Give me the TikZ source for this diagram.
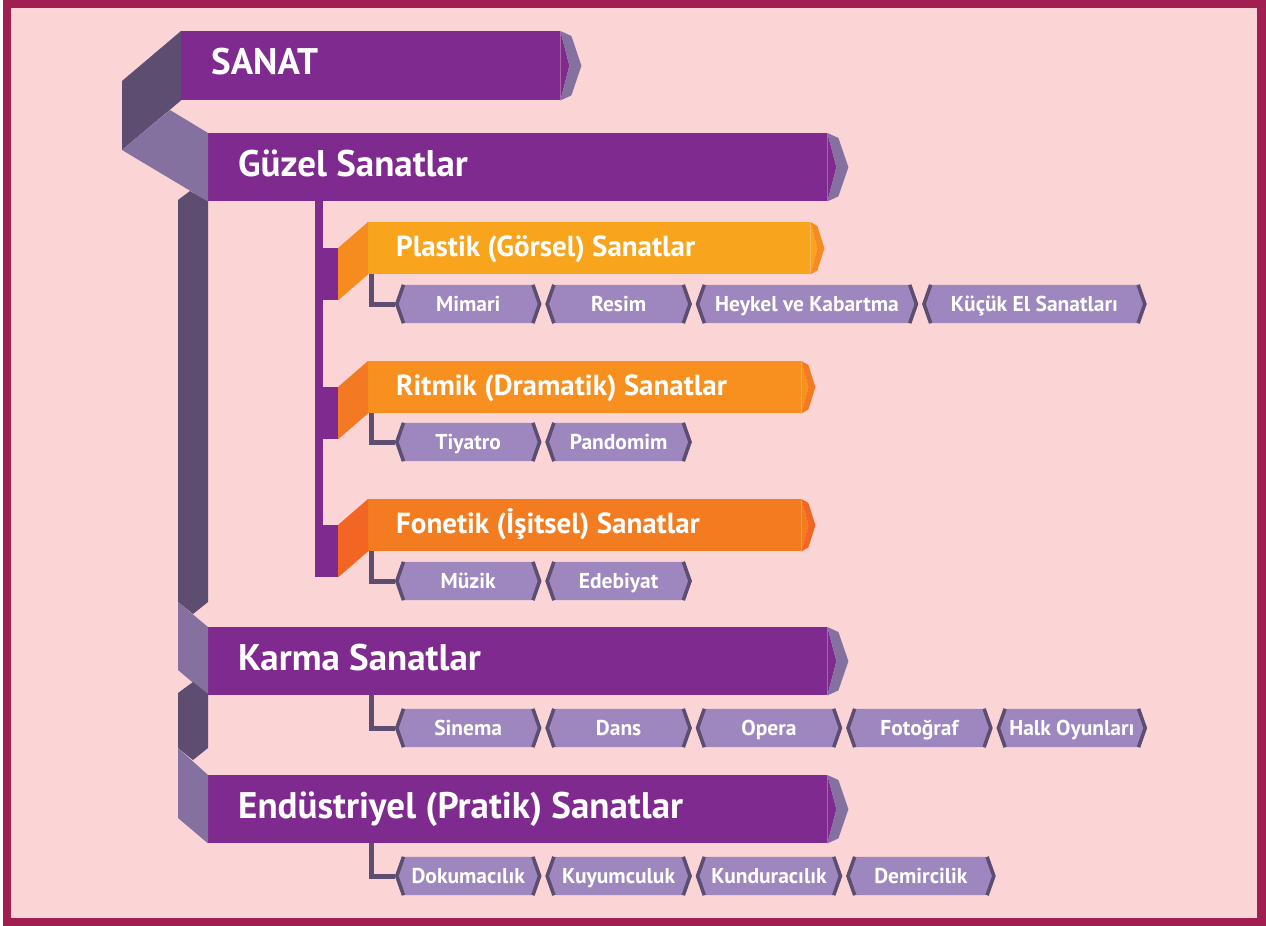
\documentclass[tikz,border=0pt]{standalone}
\usepackage{fontspec}
\setmainfont{PT Sans}
\usetikzlibrary{calc,positioning}
\pgfdeclarelayer{back}
\pgfsetlayers{back,main}

\definecolor{framered}{HTML}{A01E50}
\definecolor{bgpink}{HTML}{FBD5D5}
\definecolor{banpurple}{HTML}{7F2A8E}
\definecolor{spinedark}{HTML}{5C4D71}
\definecolor{foldlight}{HTML}{8571A0}
\definecolor{taglav}{HTML}{9D87BE}
\definecolor{orangeA}{HTML}{F8A51D}
\definecolor{orangeAfold}{HTML}{F68B1F}
\definecolor{orangeB}{HTML}{F7901E}
\definecolor{orangeBfold}{HTML}{F37A23}
\definecolor{orangeC}{HTML}{F47C20}
\definecolor{orangeCfold}{HTML}{F26522}

\tikzset{
  banner/.style={rectangle, inner sep=0pt, anchor=north west, fill=banpurple, minimum width=619pt, minimum height=68pt},
  subbanner/.style={rectangle, inner sep=0pt, anchor=north west, minimum width=433pt, minimum height=52pt},
  bigtext/.style={text=white, font=\bfseries\fontsize{37}{37}\selectfont, inner sep=0pt, text height=26pt, text depth=0pt},
  subtext/.style={text=white, font=\bfseries\fontsize{29}{29}\selectfont, inner sep=0pt, text height=20.3pt, text depth=0pt},
  tag/.style={text=white, font=\bfseries\fontsize{21.5}{21.5}\selectfont, inner sep=0pt, text height=15pt, text depth=0pt, minimum width=146pt, minimum height=38pt},
  twig/.style={draw=spinedark, line width=5pt}
}

\begin{document}
\begin{tikzpicture}[x=1pt,y=-1pt]
  \useasboundingbox (0,0) rectangle (1266,926);

  \begin{pgfonlayer}{back}
    \fill[framered] (3,0) rectangle (1266,926);
    \fill[bgpink] (11,8) rectangle (1257,918);
  \end{pgfonlayer}

  % main banners
  \node[banner, minimum width=379pt, minimum height=69pt] at (181,31) (sanat) {};
  \node[banner] at (208,133) (guzel) {};
  \node[banner] at (208,627) (karma) {};
  \node[banner] at (208,775) (endus) {};

  \foreach \bn in {sanat,guzel,karma,endus}
  {
    \fill[banpurple] (\bn.north east) -- ($(\bn.east)+(9,0)$) -- (\bn.south east) -- cycle;
    \fill[foldlight] (\bn.north east) -- ++(11,5) -- ($(\bn.east)+(21,0)$) -- ($(\bn.south east)+(11,-5)$) -- (\bn.south east) -- ($(\bn.east)+(9,0)$) -- cycle;
  }

  % folds on the left
  \fill[spinedark] (sanat.north west) -- (122,81) -- (122,150) -- (sanat.south west) -- cycle;
  \fill[spinedark] (178,200) -- (190,191) -- (208,201) -- (208,602) -- (193,614) -- (178,602) -- cycle;
  \fill[foldlight] (122,150) -- (170,110) -- (guzel.north west) -- (guzel.south west) -- cycle;
  \fill[foldlight] (178,602) -- (karma.north west) -- (karma.south west) -- (178,670) -- cycle;
  \fill[spinedark] (178,693) -- (193,682) -- (208,694) -- (208,748) -- (193,760) -- (178,748) -- cycle;
  \fill[foldlight] (178,748) -- (endus.north west) -- (endus.south west) -- (178,818) -- cycle;

  % sub banners
  \node[subbanner, fill=orangeA, minimum width=442pt] at (368,222) (plastik) {};
  \node[subbanner, fill=orangeB] at (368,361) (ritmik) {};
  \node[subbanner, fill=orangeC] at (368,499) (fonetik) {};

  \foreach \s/\c/\f in {plastik/orangeA/orangeAfold,ritmik/orangeB/orangeBfold,fonetik/orangeC/orangeCfold}
  {
    \fill[\c] (\s.north east) -- ($(\s.east)+(7,0)$) -- (\s.south east) -- cycle;
    \fill[\f] (\s.north east) -- ++(7,4) -- ($(\s.east)+(14,0)$) -- ($(\s.south east)+(7,-4)$) -- (\s.south east) -- ($(\s.east)+(7,0)$) -- cycle;
    \fill[\f] ($(\s.north west)+(-30,26)$) -- (\s.north west) -- (\s.south west) -- ($(\s.south west)+(-30,26)$) -- cycle;
    \fill[banpurple] ($(\s.north west)+(-53,26)$) rectangle ($(\s.south west)+(-30,26)$);
  }
  \fill[banpurple] ($(guzel.south west)+(107,0)$) rectangle ($(fonetik.south west)+(-45,26)$);

  % titles
  \node[bigtext, right=30pt of sanat.west, yshift=4pt] (sanat_label) {SANAT};
  \node[bigtext, right=30pt of guzel.west, yshift=4pt] (guzel_label) {Güzel Sanatlar};
  \node[bigtext, right=30pt of karma.west, yshift=4pt] (karma_label) {Karma Sanatlar};
  \node[bigtext, right=30pt of endus.west, yshift=4pt] (endus_label) {Endüstriyel (Pratik) Sanatlar};
  \node[subtext, right=28pt of plastik.west, yshift=2pt] (plastik_label) {Plastik (Görsel) Sanatlar};
  \node[subtext, right=28pt of ritmik.west, yshift=2pt] (ritmik_label) {Ritmik (Dramatik) Sanatlar};
  \node[subtext, right=28pt of fonetik.west, yshift=2pt] (fonetik_label) {Fonetik (İşitsel) Sanatlar};

  % tags
  \node[tag, anchor=west] at (395,304) (mimari) {Mimari};
  \node[tag, right=4pt of mimari] (resim) {Resim};
  \node[tag, right=4pt of resim, minimum width=222pt] (heykel) {Heykel ve Kabartma};
  \node[tag, right=4pt of heykel, minimum width=224pt] (kucuk) {Küçük El Sanatları};

  \node[tag, anchor=west] at (395,442) (tiyatro) {Tiyatro};
  \node[tag, right=4pt of tiyatro] (pandomim) {Pandomim};

  \node[tag, anchor=west] at (395,581) (muzik) {Müzik};
  \node[tag, right=4pt of muzik] (edebiyat) {Edebiyat};

  \node[tag, anchor=west] at (395,728) (sinema) {Sinema};
  \node[tag, right=4pt of sinema] (dans) {Dans};
  \node[tag, right=4pt of dans] (opera) {Opera};
  \node[tag, right=4pt of opera] (fotograf) {Fotoğraf};
  \node[tag, right=4pt of fotograf, minimum width=150pt] (halk) {Halk Oyunları};

  \node[tag, anchor=west] at (395,876) (dokuma) {Dokumacılık};
  \node[tag, right=4pt of dokuma] (kuyum) {Kuyumculuk};
  \node[tag, right=4pt of kuyum] (kundura) {Kunduracılık};
  \node[tag, right=4pt of kundura, minimum width=149pt] (demir) {Demircilik};

  \begin{pgfonlayer}{back}
    \foreach \t in {mimari,resim,heykel,kucuk,tiyatro,pandomim,muzik,edebiyat,sinema,dans,opera,fotograf,halk,dokuma,kuyum,kundura,demir}
    {
      \fill[taglav] (\t.west) -- ([xshift=7pt]\t.north west) -- ([xshift=-7pt]\t.north east) -- (\t.east) -- ([xshift=-7pt]\t.south east) -- ([xshift=7pt]\t.south west) -- cycle;
      \draw[spinedark, line width=3.5pt] ([xshift=8.5pt]\t.north west) -- ([xshift=1.8pt]\t.west) -- ([xshift=8.5pt]\t.south west);
      \draw[spinedark, line width=3.5pt] ([xshift=-8.5pt]\t.north east) -- ([xshift=-1.8pt]\t.east) -- ([xshift=-8.5pt]\t.south east);
    }
  \end{pgfonlayer}

  % twigs to the first tag of each row
  \draw[twig] ($(plastik.south west)+(3.5,0)$) |- (mimari.west);
  \draw[twig] ($(ritmik.south west)+(3.5,0)$) |- (tiyatro.west);
  \draw[twig] ($(fonetik.south west)+(3.5,0)$) |- (muzik.west);
  \draw[twig] ($(karma.south west)+(163.5,0)$) |- (sinema.west);
  \draw[twig] ($(endus.south west)+(163.5,0)$) |- (dokuma.west);
\end{tikzpicture}
\end{document}
